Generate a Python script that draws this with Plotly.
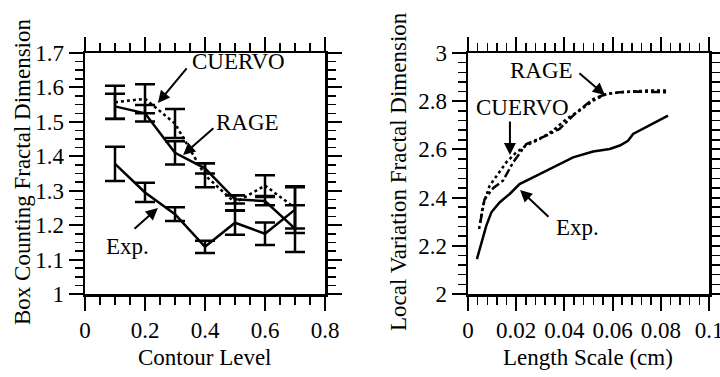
import plotly.graph_objects as go

# ---------------- Left panel data ----------------
contour_level = [0.1, 0.2, 0.3, 0.4, 0.5, 0.6, 0.7]
exp_box = [1.378, 1.295, 1.232, 1.137, 1.207, 1.175, 1.245]
exp_box_err = [0.05, 0.028, 0.02, 0.018, 0.035, 0.033, 0.068]
rage_box = [1.545, 1.525, 1.41, 1.365, 1.275, 1.27, 1.19]
rage_box_err = [0.037, 0.024, 0.034, 0.015, 0.012, 0.012, 0.068]
cuervo_box = [1.557, 1.567, 1.495, 1.345, 1.265, 1.315, 1.25]
cuervo_box_err = [0.048, 0.042, 0.042, 0.035, 0.022, 0.03, 0.06]

# ---------------- Right panel data ----------------
exp_len = [0.0037, 0.0055, 0.0076, 0.0097, 0.0131, 0.0173, 0.0214, 0.027, 0.0353,
           0.0436, 0.0519, 0.0588, 0.063, 0.0664, 0.0685, 0.074, 0.0781, 0.083]
exp_lv = [2.145, 2.214, 2.284, 2.339, 2.38, 2.415, 2.456, 2.484, 2.526,
          2.567, 2.591, 2.602, 2.616, 2.636, 2.664, 2.692, 2.712, 2.74]
cuervo_len = [0.0046, 0.0062, 0.009, 0.0124, 0.0159, 0.02, 0.0242, 0.0297, 0.0353,
              0.0408, 0.0463, 0.0519, 0.0574, 0.063, 0.0685, 0.074, 0.083]
cuervo_lv = [2.27, 2.367, 2.45, 2.498, 2.546, 2.588, 2.616, 2.643, 2.678,
             2.726, 2.761, 2.802, 2.83, 2.837, 2.84, 2.844, 2.844]
rage_len = [0.0051, 0.0069, 0.0105, 0.0145, 0.0187, 0.0242, 0.0325, 0.038,
            0.045, 0.0519, 0.0574, 0.063, 0.0699, 0.083]
rage_lv = [2.297, 2.394, 2.44, 2.47, 2.546, 2.622, 2.657, 2.685,
           2.754, 2.809, 2.83, 2.837, 2.84, 2.837]

FONT = "Liberation Serif"
FS = 23
BLACK = "black"

fig = go.Figure()

def ebar(arr):
    return dict(type="data", array=arr, visible=True, color=BLACK, thickness=2.5, width=10)

fig.add_trace(go.Scatter(x=contour_level, y=exp_box, mode="lines",
                         line=dict(color=BLACK, width=2.5), error_y=ebar(exp_box_err),
                         xaxis="x", yaxis="y", name="Exp."))
fig.add_trace(go.Scatter(x=contour_level, y=rage_box, mode="lines",
                         line=dict(color=BLACK, width=2.5), error_y=ebar(rage_box_err),
                         xaxis="x", yaxis="y", name="RAGE"))
fig.add_trace(go.Scatter(x=contour_level, y=cuervo_box, mode="lines",
                         line=dict(color=BLACK, width=2.5, dash="dot"), error_y=ebar(cuervo_box_err),
                         xaxis="x", yaxis="y", name="CUERVO"))

fig.add_trace(go.Scatter(x=exp_len, y=exp_lv, mode="lines", line=dict(color=BLACK, width=2.5),
                         xaxis="x2", yaxis="y2", name="Exp."))
fig.add_trace(go.Scatter(x=rage_len, y=rage_lv, mode="lines",
                         line=dict(color=BLACK, width=2.5, dash="dashdot"),
                         xaxis="x2", yaxis="y2", name="RAGE"))
fig.add_trace(go.Scatter(x=cuervo_len, y=cuervo_lv, mode="lines",
                         line=dict(color=BLACK, width=2.5, dash="dot"),
                         xaxis="x2", yaxis="y2", name="CUERVO"))

# empty helper traces so the overlay (top/right tick-only) axes are drawn
fig.add_trace(go.Scatter(x=[None], y=[None], xaxis="x3", yaxis="y3", showlegend=False,
                         hoverinfo="skip", mode="lines"))
fig.add_trace(go.Scatter(x=[None], y=[None], xaxis="x4", yaxis="y4", showlegend=False,
                         hoverinfo="skip", mode="lines"))

def axis(rng, dtick, minor_dtick, anchor, domain=None, labels=True, side=None, overlaying=None):
    d = dict(range=rng, dtick=dtick, tick0=0, anchor=anchor,
             automargin=False, ticklabeloverflow="allow", showticklabels=labels,
             showgrid=False, zeroline=False, showline=True, linecolor=BLACK, linewidth=2.5,
             mirror=False, ticks="outside", ticklen=14, tickwidth=2, tickcolor=BLACK,
             tickfont=dict(family=FONT, size=FS, color=BLACK),
             minor=dict(dtick=minor_dtick, tick0=0, ticks="outside", ticklen=8,
                        tickwidth=1.5, tickcolor=BLACK, showgrid=False))
    if domain is not None:
        d["domain"] = domain
    if side is not None:
        d["side"] = side
    if overlaying is not None:
        d["overlaying"] = overlaying
    return d

xd1 = [85 / 720, 325 / 720]
xd2 = [468 / 720, 709 / 720]
ydom = [1 - 294 / 377, 1 - 53 / 377]
fig.update_layout(
    template="none",
    width=720, height=377,
    margin=dict(l=0, r=0, t=0, b=0, autoexpand=False),
    paper_bgcolor="white", plot_bgcolor="white",
    showlegend=False,
    font=dict(family=FONT, size=FS, color=BLACK),
    xaxis=axis([0, 0.8], 0.2, 0.05, "y", domain=xd1, side="bottom"),
    yaxis=axis([1, 1.7], 0.1, 0.025, "x", domain=ydom, side="left"),
    xaxis2=axis([0, 0.1], 0.02, 0.004, "y2", domain=xd2, side="bottom"),
    yaxis2=axis([2, 3], 0.2, 0.04, "x2", domain=ydom, side="left"),
    xaxis3=axis([0, 0.8], 0.2, 0.05, "y", labels=False, side="top", overlaying="x"),
    yaxis3=axis([1, 1.7], 0.1, 0.025, "x", labels=False, side="right", overlaying="y"),
    xaxis4=axis([0, 0.1], 0.02, 0.004, "y2", labels=False, side="top", overlaying="x2"),
    yaxis4=axis([2, 3], 0.2, 0.04, "x2", labels=False, side="right", overlaying="y2"),
)

annots = []
# axis titles
annots.append(dict(text="Box Counting Fractal Dimension", xref="paper", yref="paper",
                   x=22 / 720, y=1 - 172 / 377, textangle=-90, showarrow=False,
                   xanchor="center", yanchor="middle", font=dict(family=FONT, size=FS)))
annots.append(dict(text="Contour Level", xref="paper", yref="paper",
                   x=205 / 720, y=1 - 357 / 377, showarrow=False,
                   xanchor="center", yanchor="middle", font=dict(family=FONT, size=FS)))
annots.append(dict(text="Local Variation Fractal Dimension", xref="paper", yref="paper",
                   x=398 / 720, y=1 - 172 / 377, textangle=-90, showarrow=False,
                   xanchor="center", yanchor="middle", font=dict(family=FONT, size=FS)))
annots.append(dict(text="Length Scale (cm)", xref="paper", yref="paper",
                   x=588 / 720, y=1 - 357 / 377, showarrow=False,
                   xanchor="center", yanchor="middle", font=dict(family=FONT, size=FS)))

def label(text, x, y, xr, yr):
    annots.append(dict(text=text, x=x, y=y, xref=xr, yref=yr, showarrow=False,
                       xanchor="center", yanchor="middle", font=dict(family=FONT, size=FS)))

def arrow(hx, hy, tx, ty, xr, yr):
    annots.append(dict(text="", x=hx, y=hy, xref=xr, yref=yr, ax=tx, ay=ty,
                       axref=xr, ayref=yr, showarrow=True, arrowhead=2, arrowsize=1.2,
                       arrowwidth=2, arrowcolor=BLACK, standoff=0, startstandoff=0))

# left panel callouts
label("CUERVO", 0.51, 1.674, "x", "y")
arrow(0.243, 1.555, 0.343, 1.66, "x", "y")
label("RAGE", 0.543, 1.497, "x", "y")
arrow(0.327, 1.404, 0.433, 1.485, "x", "y")
label("Exp.", 0.143, 1.137, "x", "y")
arrow(0.243, 1.25, 0.16, 1.186, "x", "y")

# right panel callouts
label("RAGE", 0.0307, 2.929, "x2", "y2")
arrow(0.0568, 2.826, 0.0456, 2.921, "x2", "y2")
label("CUERVO", 0.0228, 2.772, "x2", "y2")
arrow(0.0174, 2.577, 0.0174, 2.722, "x2", "y2")
label("Exp.", 0.0456, 2.274, "x2", "y2")
arrow(0.0216, 2.432, 0.034, 2.315, "x2", "y2")

fig.update_layout(annotations=annots)
fig.write_html("out.html", config={"staticPlot": True})
